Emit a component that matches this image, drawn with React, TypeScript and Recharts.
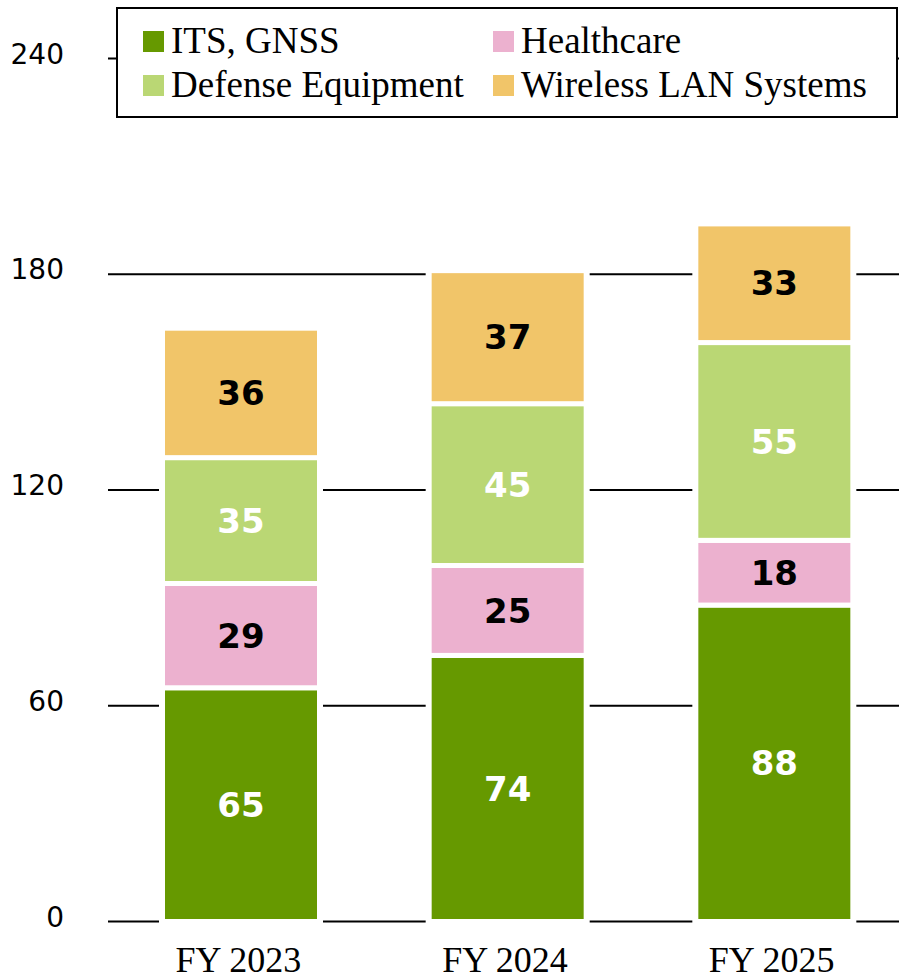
import React from "react";
import { BarChart, Bar, XAxis, YAxis, CartesianGrid, Legend, LabelList } from "recharts";

const years = ["FY 2023", "FY 2024", "FY 2025"];
const itsGnss = [65, 74, 88];
const healthcare = [29, 25, 18];
const defense = [35, 45, 55];
const wirelessLan = [36, 37, 33];
const yTicks = [0, 60, 120, 180, 240];

const series = [
  { key: "its", name: "ITS, GNSS", color: "#669900", label: "#ffffff" },
  { key: "health", name: "Healthcare", color: "#ECB1CF", label: "#000000" },
  { key: "defense", name: "Defense Equipment", color: "#BAD774", label: "#ffffff" },
  { key: "wlan", name: "Wireless LAN Systems", color: "#F1C569", label: "#000000" },
];

const data = years.map((y, i) => ({
  year: y,
  its: itsGnss[i],
  health: healthcare[i],
  defense: defense[i],
  wlan: wirelessLan[i],
}));

const SERIF = "'Liberation Serif', 'Times New Roman', serif";
const SANS = "Verdana, 'DejaVu Sans', sans-serif";

// white halo behind each segment hides the gridlines and leaves a gap between stacks
const Segment = (props: any) => {
  const { x, y, width, height, fill } = props;
  if (!height || height <= 0) return null;
  return (
    <g>
      <rect x={x - 6} y={y - 2.5} width={width + 12} height={height + 5} fill="#fff" />
      <rect x={x} y={y + 2.5} width={width} height={Math.max(0, height - 5)} fill={fill} />
    </g>
  );
};

const YTick = (props: any) => {
  const { y, payload } = props;
  return (
    <text x={64} y={y - 4.5} textAnchor="end" dominantBaseline="central" fontFamily={SANS} fontSize={28} fill="#000">
      {payload.value}
    </text>
  );
};

const XTick = (props: any) => {
  const { x, y, payload } = props;
  return (
    <text x={x} y={y} dx={-3} dy={50.5} textAnchor="middle" fontFamily={SERIF} fontSize={36} fill="#000">
      {payload.value}
    </text>
  );
};

const LegendBox = () => (
  <div
    style={{
      boxSizing: "border-box",
      width: 782,
      height: 111,
      border: "2px solid #000",
      background: "#fff",
      padding: "10px 0 0 25px",
      display: "grid",
      gridTemplateColumns: "350px 1fr",
      gridAutoRows: "44px",
      fontFamily: SERIF,
      fontSize: 37,
      color: "#000",
    }}
  >
    {series.map((s) => (
      <div key={s.key} style={{ display: "flex", alignItems: "center", lineHeight: "44px", whiteSpace: "nowrap" }}>
        <span style={{ display: "inline-block", width: 21, height: 21, background: s.color, marginRight: 7, flex: "none" }} />
        <span>{s.name}</span>
      </div>
    ))}
  </div>
);

export default function App() {
  return (
    <div style={{ position: "absolute", left: 0, top: 0, width: 899, height: 977, overflow: "hidden", background: "#fff" }}>
      <BarChart width={908} height={977} data={data} margin={{ top: 58.5, right: 0, bottom: 0, left: 0 }}>
        <CartesianGrid vertical={false} stroke="#000" strokeWidth={2} />
        <XAxis
          dataKey="year"
          axisLine={false}
          tickLine={false}
          tickSize={0}
          tickMargin={0}
          height={55.5}
          tick={<XTick />}
        />
        <YAxis
          domain={[0, 240]}
          ticks={yTicks}
          width={108}
          axisLine={false}
          tickLine={false}
          tick={<YTick />}
        />
        <Legend
          layout="horizontal"
          verticalAlign="middle"
          align="center"
          content={<LegendBox />}
          wrapperStyle={{ left: 116, top: 7, width: 782, height: 111 }}
        />
        {series.map((s) => (
          <Bar
            key={s.key}
            dataKey={s.key}
            name={s.name}
            stackId="a"
            fill={s.color}
            barSize={152}
            shape={<Segment />}
            isAnimationActive={false}
          >
            <LabelList
              dataKey={s.key}
              position="center"
              fill={s.label}
              fontFamily={SANS}
              fontWeight="bold"
              fontSize={34}
            />
          </Bar>
        ))}
      </BarChart>
    </div>
  );
}
